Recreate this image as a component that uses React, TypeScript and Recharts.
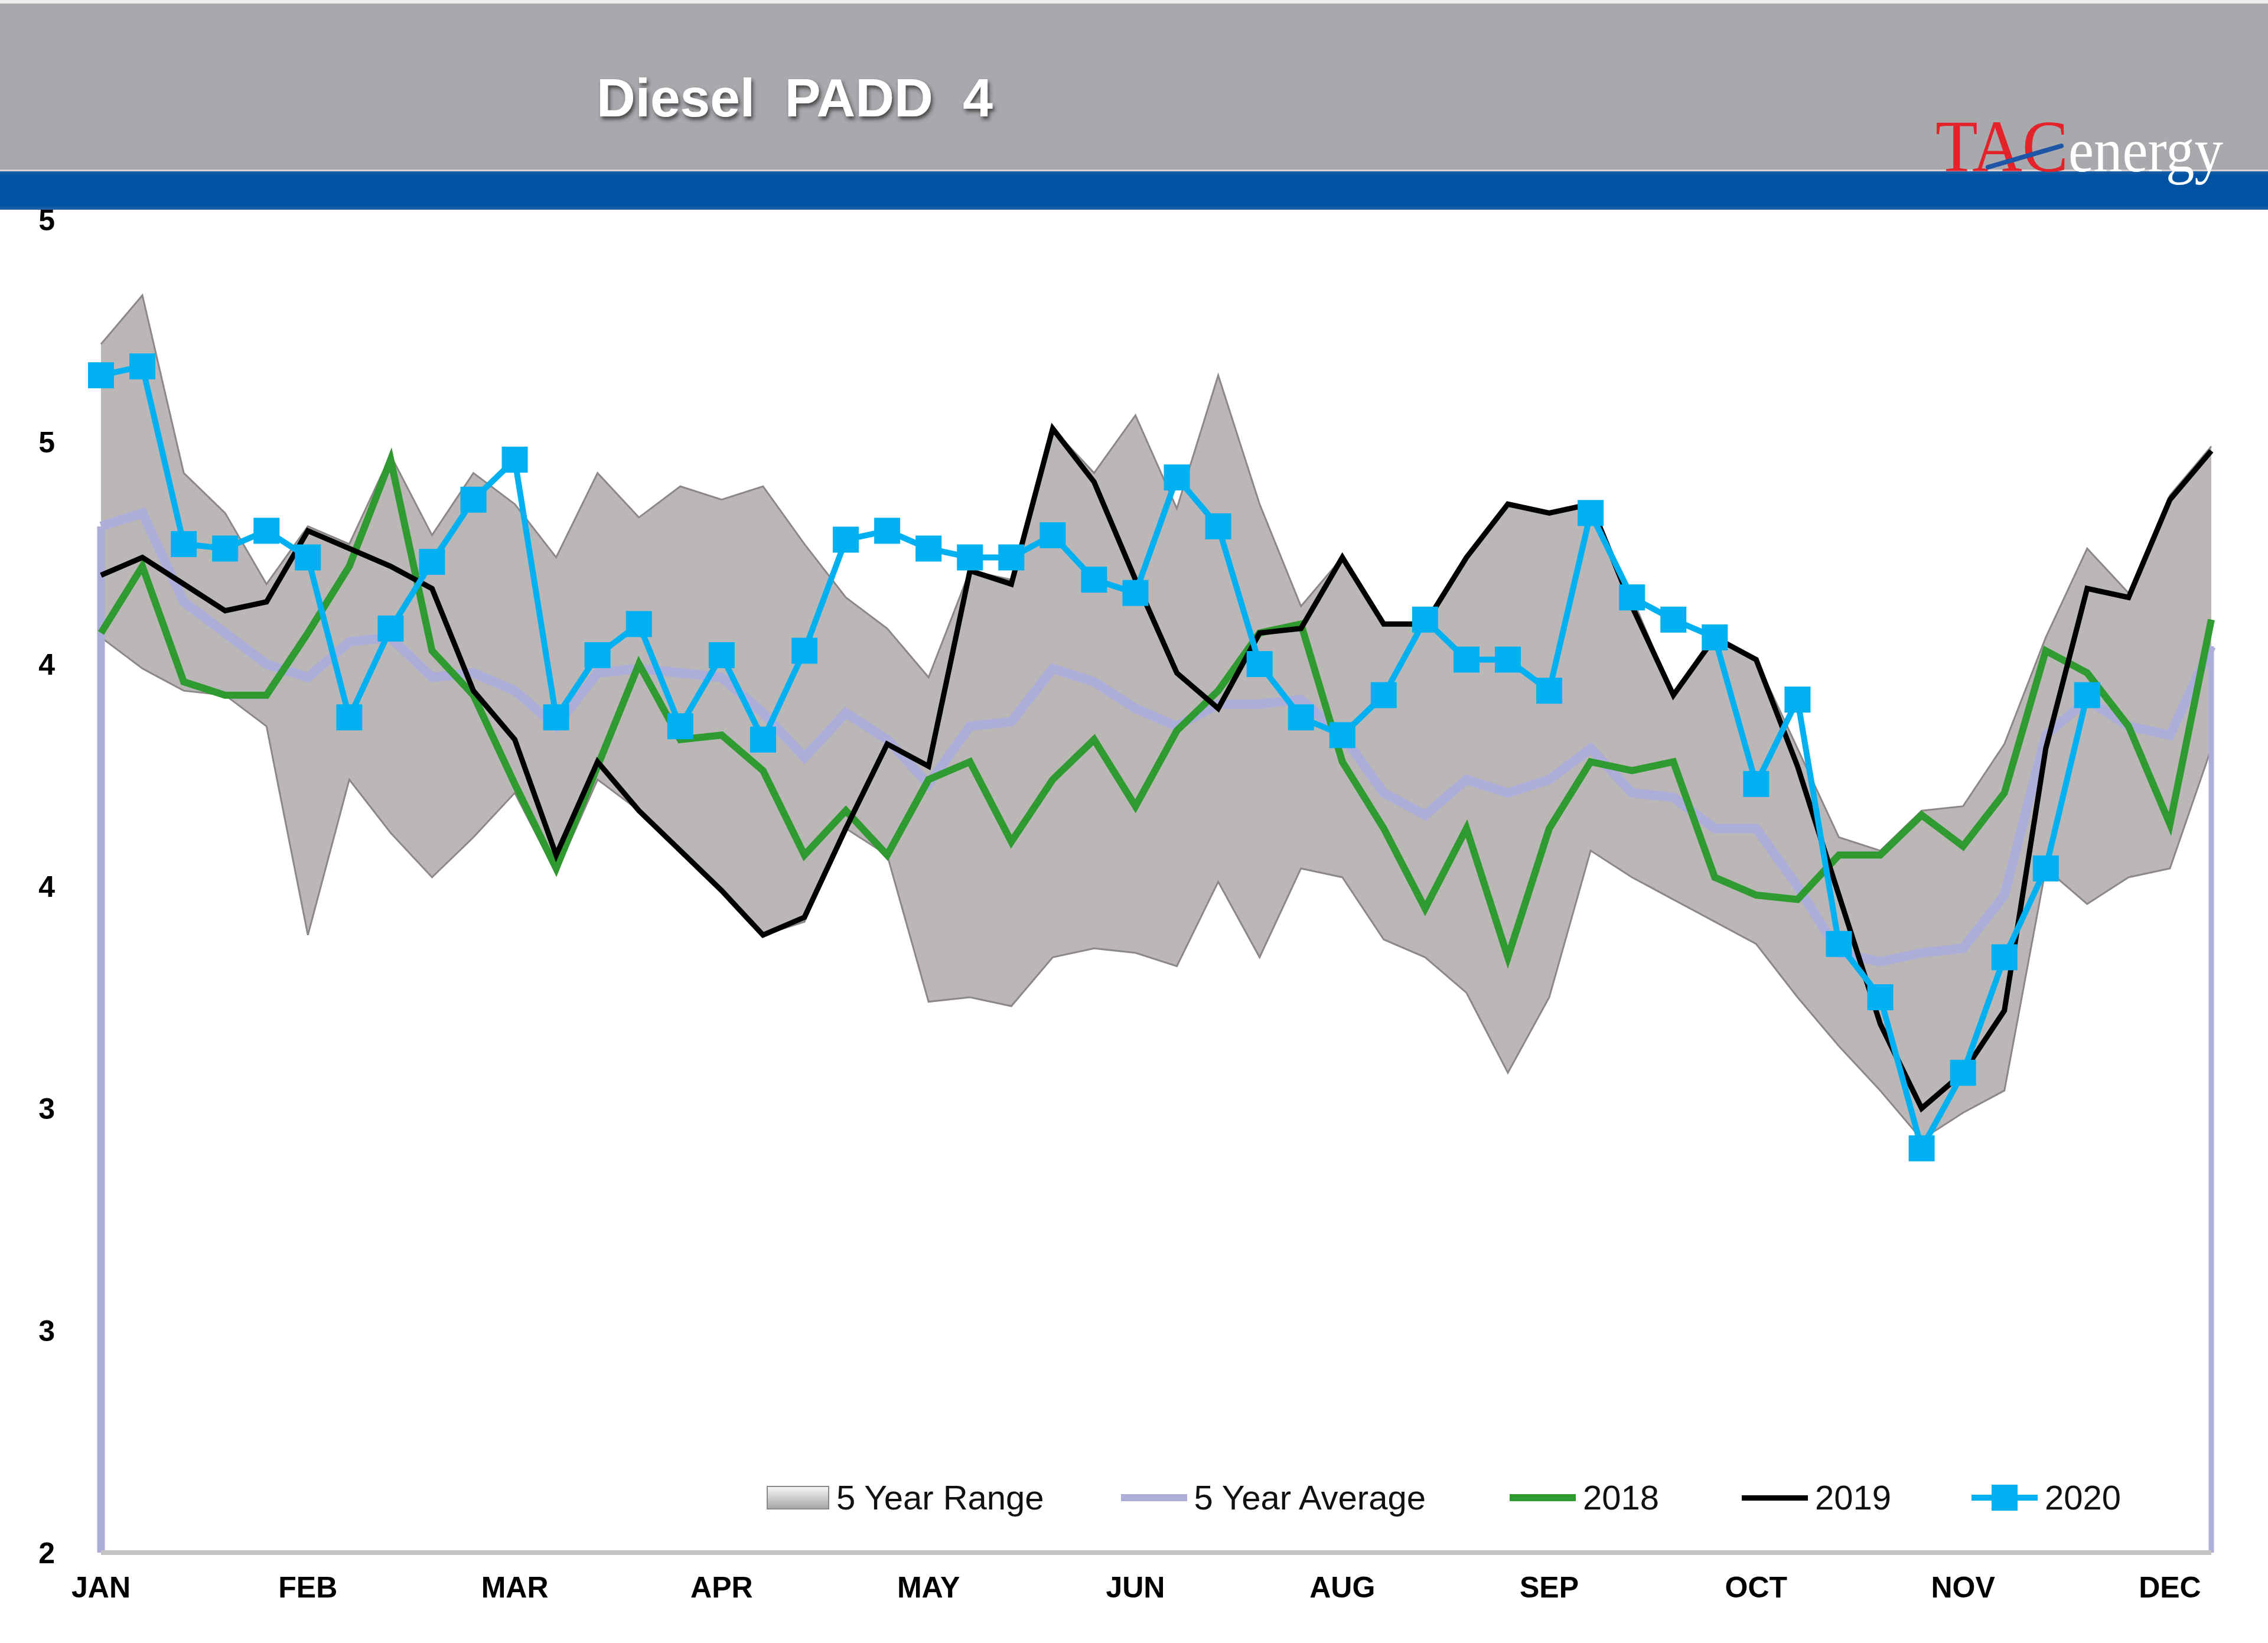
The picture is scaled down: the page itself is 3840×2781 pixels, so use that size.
import React from "react";
import { Area, ComposedChart, Line, ReferenceLine, XAxis, YAxis } from "recharts";

// weekly index 0..51, one label every 5 weeks (the source skips JUL)
const months = ["JAN", "FEB", "MAR", "APR", "MAY", "JUN", "AUG", "SEP", "OCT", "NOV", "DEC"];
const yTicks = [2, 2.5, 3, 3.5, 4, 4.5, 5];

const rangeMin = [
  4.06, 3.99, 3.94, 3.93, 3.86, 3.39, 3.74, 3.62, 3.52, 3.61,
  3.71, 3.53, 3.74, 3.67, 3.58, 3.49, 3.39, 3.42, 3.63, 3.57,
  3.24, 3.25, 3.23, 3.34, 3.36, 3.35, 3.32, 3.51, 3.34, 3.54,
  3.52, 3.38, 3.34, 3.26, 3.08, 3.25, 3.58, 3.52, 3.47, 3.42,
  3.37, 3.25, 3.14, 3.04, 2.93, 2.99, 3.04, 3.54, 3.46, 3.52,
  3.54, 3.81,
];
const rangeMax = [
  4.72, 4.83, 4.43, 4.34, 4.18, 4.31, 4.27, 4.47, 4.29, 4.43,
  4.36, 4.24, 4.43, 4.33, 4.4, 4.37, 4.4, 4.27, 4.15, 4.08,
  3.97, 4.21, 4.19, 4.53, 4.43, 4.56, 4.35, 4.65, 4.36, 4.13,
  4.24, 4.09, 4.09, 4.24, 4.36, 4.34, 4.36, 4.15, 3.93, 4.06,
  4.01, 3.81, 3.61, 3.58, 3.67, 3.68, 3.82, 4.06, 4.26, 4.16,
  4.38, 4.49,
];
const fiveYearAvg = [
  4.31, 4.34, 4.14, 4.07, 4.0, 3.97, 4.05, 4.06, 3.97, 3.98,
  3.94, 3.86, 3.98, 3.99, 3.98, 3.97, 3.89, 3.79, 3.89, 3.83,
  3.73, 3.86, 3.87, 3.99, 3.96, 3.9, 3.86, 3.91, 3.91, 3.92,
  3.84, 3.71, 3.66, 3.74, 3.71, 3.74, 3.81, 3.71, 3.7, 3.63,
  3.63, 3.5, 3.35, 3.33, 3.35, 3.36, 3.48, 3.84, 3.92, 3.86,
  3.84, 4.04,
];
const year2018 = [
  4.07, 4.22, 3.96, 3.93, 3.93, 4.07, 4.22, 4.46, 4.03, 3.93,
  3.73, 3.54, 3.77, 4.0, 3.83, 3.84, 3.76, 3.57, 3.67, 3.57,
  3.74, 3.78, 3.6, 3.74, 3.83, 3.68, 3.85, 3.94, 4.07, 4.09,
  3.78, 3.63, 3.45, 3.63, 3.34, 3.63, 3.78, 3.76, 3.78, 3.52,
  3.48, 3.47, 3.57, 3.57, 3.66, 3.59, 3.71, 4.03, 3.98, 3.86,
  3.64, 4.1,
];
const year2019 = [
  4.2, 4.24, 4.18, 4.12, 4.14, 4.3, 4.26, 4.22, 4.17, 3.94,
  3.83, 3.57, 3.78, 3.67, 3.58, 3.49, 3.39, 3.43, 3.63, 3.82,
  3.77, 4.21, 4.18, 4.53, 4.41, 4.19, 3.98, 3.9, 4.07, 4.08,
  4.24, 4.09, 4.09, 4.24, 4.36, 4.34, 4.36, 4.13, 3.93, 4.06,
  4.01, 3.77, 3.48, 3.19, 3.0, 3.08, 3.22, 3.81, 4.17, 4.15,
  4.37, 4.48,
];
const year2020 = [
  4.65, 4.67, 4.27, 4.26, 4.3, 4.24, 3.88, 4.08, 4.23, 4.37,
  4.46, 3.88, 4.02, 4.09, 3.86, 4.02, 3.83, 4.03, 4.28, 4.3,
  4.26, 4.24, 4.24, 4.29, 4.19, 4.16, 4.42, 4.31, 4.0, 3.88,
  3.84, 3.93, 4.1, 4.01, 4.01, 3.94, 4.34, 4.15, 4.1, 4.06,
  3.73, 3.92, 3.37, 3.25, 2.91, 3.08, 3.34, 3.54, 3.93,
];

const chartData = rangeMin.map((lo, i) => ({
  week: i,
  range: [lo, rangeMax[i]],
  avg: fiveYearAvg[i],
  y2018: year2018[i],
  y2019: year2019[i],
  y2020: i < year2020.length ? year2020[i] : null,
}));

const monthTicks = months.map((_, i) => i * 5);
const lastWeek = rangeMin.length - 1;

const BLUE = "#00b0f0";
const GREEN = "#2e9a30";
const LAVENDER = "#adadd9";
const FONT = '"Liberation Sans", Arial, sans-serif';

function renderSquare(p: any) {
  const { cx, cy, index, value } = p;
  if (value == null || cx == null || cy == null) return <g key={`sq-${index}`} />;
  return <rect key={`sq-${index}`} x={cx - 22} y={cy - 22} width={44} height={44} fill={BLUE} />;
}

function Header() {
  return (
    <svg width={3840} height={372} style={{ position: "absolute", left: 0, top: 0 }}>
      <defs>
        <filter id="titleShadow" x="-10%" y="-30%" width="120%" height="160%">
          <feDropShadow dx="3" dy="5" stdDeviation="3" floodColor="#2a2a2a" floodOpacity="0.75" />
        </filter>
        <linearGradient id="blueBand" x1="0" y1="0" x2="0" y2="1">
          <stop offset="0" stopColor="#1d5fa8" />
          <stop offset="0.1" stopColor="#0053a3" />
          <stop offset="0.9" stopColor="#0053a3" />
          <stop offset="1" stopColor="#2a64a8" />
        </linearGradient>
      </defs>
      <rect x={0} y={0} width={3840} height={6} fill="#eeeeee" />
      <rect x={0} y={6} width={3840} height={283} fill="#a8a9ad" />
      <rect x={0} y={287} width={3840} height={3} fill="#d6cfcf" />
      <rect x={0} y={290} width={3840} height={65} fill="url(#blueBand)" />
      <text
        x={1010}
        y={197}
        fontFamily={FONT}
        fontWeight={700}
        fontSize={91}
        fill="#ffffff"
        filter="url(#titleShadow)"
        style={{ whiteSpace: "pre" }}
      >
        {"Diesel  PADD  4"}
      </text>
      <text
        x={3277}
        y={290}
        fontFamily='"Liberation Serif", "Times New Roman", serif'
        fontSize={124}
        fill="#e3222a"
        textLength={225}
        lengthAdjust="spacingAndGlyphs"
      >
        TAC
      </text>
      <line x1={3366} y1={283} x2={3490} y2={247} stroke="#1f55a6" strokeWidth={8} strokeLinecap="round" />
      <text
        x={3502}
        y={290}
        fontFamily='"Liberation Serif", "Times New Roman", serif'
        fontSize={105}
        fill="#ffffff"
        textLength={262}
        lengthAdjust="spacingAndGlyphs"
      >
        energy
      </text>
    </svg>
  );
}

const legendItems = [
  { label: "5 Year Range", kind: "box", color: "#a9a6a6", gap: 0 },
  { label: "5 Year Average", kind: "line", color: LAVENDER, thick: 12, gap: 130 },
  { label: "2018", kind: "line", color: GREEN, thick: 12, gap: 142 },
  { label: "2019", kind: "line", color: "#000000", thick: 9, gap: 140 },
  { label: "2020", kind: "marker", color: BLUE, thick: 10, gap: 136 },
];

function LegendIcon({ item }: { item: any }) {
  if (item.kind === "box") {
    return (
      <div
        style={{
          width: 106,
          height: 40,
          boxSizing: "border-box",
          border: "2px solid #8c8888",
          background: "linear-gradient(#f6f6f6, #a9a6a6)",
        }}
      />
    );
  }
  return (
    <div style={{ position: "relative", width: 112, height: 44 }}>
      <div
        style={{
          position: "absolute",
          left: 0,
          right: 0,
          top: 22 - item.thick / 2,
          height: item.thick,
          background: item.color,
        }}
      />
      {item.kind === "marker" && (
        <div style={{ position: "absolute", left: 34, top: 0, width: 44, height: 44, background: item.color }} />
      )}
    </div>
  );
}

function ChartLegend() {
  return (
    <div
      style={{
        position: "absolute",
        left: 1298,
        top: 2505,
        height: 60,
        display: "flex",
        alignItems: "center",
        fontFamily: FONT,
        fontSize: 58,
        lineHeight: "60px",
        color: "#111",
        whiteSpace: "nowrap",
      }}
    >
      {legendItems.map((item) => (
        <div key={item.label} style={{ display: "flex", alignItems: "center", marginLeft: item.gap }}>
          <LegendIcon item={item} />
          <span style={{ marginLeft: 12 }}>{item.label}</span>
        </div>
      ))}
    </div>
  );
}

export default function App() {
  const tickStyle = { fill: "#000", fontSize: 50, fontWeight: 700, fontFamily: FONT };
  return (
    <div
      style={{
        position: "absolute",
        left: 0,
        top: 0,
        width: 3840,
        height: 2781,
        background: "#ffffff",
        overflow: "hidden",
      }}
    >
      <Header />
      <div style={{ position: "absolute", left: 0, top: 0 }}>
        <ComposedChart
          width={3840}
          height={2781}
          data={chartData}
          margin={{ top: 372, right: 96, bottom: 93, left: 71 }}
        >
          <XAxis
            dataKey="week"
            type="number"
            domain={[0, lastWeek]}
            ticks={monthTicks}
            interval={0}
            tickFormatter={(v: number) => months[Math.round(v / 5)] ?? ""}
            tick={tickStyle}
            tickLine={false}
            tickMargin={34}
            axisLine={{ stroke: "#c4c4c4", strokeWidth: 8 }}
            height={60}
          />
          <YAxis
            type="number"
            domain={[2, 5]}
            ticks={yTicks}
            interval={0}
            tickFormatter={(v: number) => String(Math.round(v))}
            tick={tickStyle}
            tickLine={false}
            axisLine={false}
            tickMargin={72}
            width={100}
          />
          <Area
            type="linear"
            dataKey="range"
            fill="#bbb7b7"
            fillOpacity={1}
            stroke="#8d8787"
            strokeWidth={3}
            isAnimationActive={false}
          />
          <ReferenceLine
            segment={[
              { x: 0, y: 2 },
              { x: 0, y: fiveYearAvg[0] },
            ]}
            stroke={LAVENDER}
            strokeWidth={13}
          />
          <ReferenceLine
            segment={[
              { x: lastWeek, y: 2 },
              { x: lastWeek, y: fiveYearAvg[lastWeek] },
            ]}
            stroke={LAVENDER}
            strokeWidth={9}
          />
          <Line
            type="linear"
            dataKey="avg"
            stroke={LAVENDER}
            strokeWidth={16}
            dot={false}
            isAnimationActive={false}
          />
          <Line
            type="linear"
            dataKey="y2018"
            stroke={GREEN}
            strokeWidth={12}
            dot={false}
            isAnimationActive={false}
          />
          <Line
            type="linear"
            dataKey="y2019"
            stroke="#000000"
            strokeWidth={9}
            dot={false}
            isAnimationActive={false}
          />
          <Line
            type="linear"
            dataKey="y2020"
            stroke={BLUE}
            strokeWidth={10}
            dot={renderSquare}
            activeDot={false}
            connectNulls={false}
            isAnimationActive={false}
          />
        </ComposedChart>
      </div>
      <ChartLegend />
    </div>
  );
}
